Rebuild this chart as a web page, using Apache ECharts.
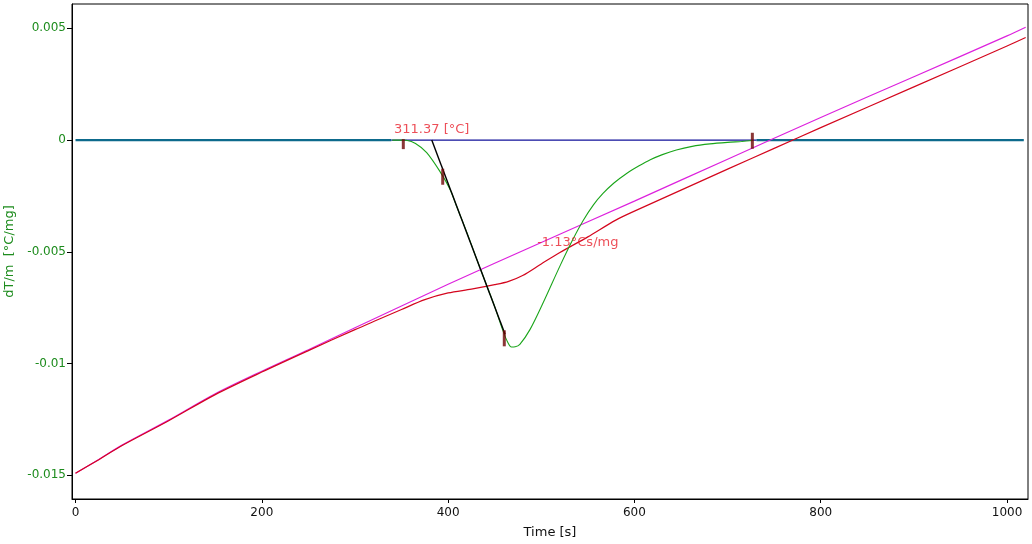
<!DOCTYPE html>
<html>
<head>
<meta charset="utf-8">
<script src="https://cdn.jsdelivr.net/npm/echarts@6/dist/echarts.min.js"></script>
<style>html,body{margin:0;padding:0;background:#fff}#c{width:1032px;height:544px}</style>
</head>
<body>
<div id="c"></div>
<script>
// ---- data (time [s], value [°C/mg]) ----
const xTicks = [0, 200, 400, 600, 800, 1000];
const yTicks = [-0.015, -0.01, -0.005, 0, 0.005];

const magentaT = [0, 25, 50, 100, 150, 200, 250, 300, 400, 500, 600, 700, 800, 900, 1000, 1020];
const magentaV = [-0.01491, -0.01429, -0.01365, -0.01253, -0.01135, -0.01034, -0.00938, -0.00840, -0.00645, -0.00458, -0.00273, -0.000855, 0.00101, 0.002837, 0.004662, 0.00505];

const redT = [0, 25, 50, 100, 150, 200, 250, 300, 325, 350, 375, 400, 425, 450, 465, 480, 500, 520, 550, 580, 600, 650, 700, 750, 800, 900, 1000, 1020];
const redV = [-0.01491, -0.01430, -0.01367, -0.01256, -0.01139, -0.01038, -0.00942, -0.00848, -0.00803, -0.00758, -0.00714, -0.00684, -0.00667, -0.00647, -0.00632, -0.00606, -0.00554, -0.00503, -0.00433, -0.00358, -0.00318, -0.00224, -0.00130, -0.00037, 0.00056, 0.00238, 0.00421, 0.00459];

const greenT = [340, 350, 355, 365, 377, 391, 402, 409, 420, 430, 440, 450, 459, 464, 468, 472, 477, 488, 502, 520, 534, 545, 556, 566, 578, 592, 605, 617, 630, 645, 662, 681, 700, 715, 727];
const greenV = [0, 0, -0.00001, -0.00015, -0.00056, -0.00139, -0.0022, -0.00295, -0.00412, -0.00525, -0.00635, -0.00745, -0.00855, -0.00905, -0.00926, -0.00925, -0.00914, -0.00847, -0.00728, -0.00564, -0.00444, -0.00360, -0.00290, -0.00240, -0.00192, -0.00148, -0.00115, -0.00088, -0.00065, -0.00044, -0.00028, -0.00017, -0.00010, -0.00006, -0.00002];

const tealLeftT = [0, 339];
const tealRightT = [731, 1018];
const baselineT = [339, 731];

const tangentT = [382.4, 461.1];
const tangentV = [0, -0.00869];

const markerT = [394.2, 460.3, 726.6];
const markerV = [-0.00164, -0.00887, -0.00003];
const onsetMarkerT = [351.9];
const onsetMarkerV = [-0.00018];

const labelTexts = ['311.37 [°C]', '-1.13°Cs/mg'];
const labelT = [382.4, 539.2];
const labelV = [0.00046, -0.00458];

const zip = (a, b) => a.map((t, i) => [t, b[i]]);
const flat = (ts) => ts.map(t => [t, 0]);

const chart = echarts.init(document.getElementById('c'), null, {renderer: 'canvas'});
const FONT = 'DejaVu Sans';
chart.setOption({
  animation: false,
  backgroundColor: '#ffffff',
  grid: {left: 72, right: 4, top: 4, bottom: 45, containLabel: false, outerBoundsMode: 'none',
    show: true, borderColor: '#000', borderWidth: 1, backgroundColor: 'transparent'},
  xAxis: {
    type: 'value', min: -3.76, max: 1022.5,
    name: 'Time [s]', nameLocation: 'middle', nameGap: 27,
    nameTextStyle: {color: '#111', fontSize: 13, fontFamily: FONT},
    axisLine: {onZero: false, lineStyle: {color: '#000', width: 1}},
    axisTick: {show: true, length: 4, lineStyle: {color: '#000'}, customValues: xTicks},
    axisLabel: {color: '#111', fontSize: 12, fontFamily: FONT, margin: 8, customValues: xTicks, formatter: v => String(v)},
    splitLine: {show: false}
  },
  yAxis: {
    type: 'value', min: -0.01606, max: 0.00609,
    name: 'dT/m  [°C/mg]', nameLocation: 'middle', nameGap: 51, nameRotate: 90,
    nameTextStyle: {color: '#1e8c1e', fontSize: 13, fontFamily: FONT},
    axisLine: {onZero: false, lineStyle: {color: '#000', width: 1}},
    axisTick: {show: true, length: 5, lineStyle: {color: '#000'}, customValues: yTicks},
    axisLabel: {color: '#1e8c1e', fontSize: 12, fontFamily: FONT, margin: 6, customValues: yTicks,
      formatter: v => { const r = Math.round(v * 1000) / 1000; return r === 0 ? '0' : String(r); }},
    splitLine: {show: false}
  },
  series: [
    {type: 'line', data: flat(tealLeftT), symbol: 'none', lineStyle: {color: '#0d6a8c', width: 2.2}, z: 2},
    {type: 'line', data: flat(tealRightT), symbol: 'none', lineStyle: {color: '#0d6a8c', width: 2.2}, z: 2},
    {type: 'line', data: flat(baselineT), symbol: 'none', lineStyle: {color: '#10109a', width: 1.2}, z: 2},
    {type: 'line', data: zip(magentaT, magentaV), symbol: 'none', smooth: 0.3, lineStyle: {color: '#dd22dd', width: 1.2}, z: 3},
    {type: 'line', data: zip(redT, redV), symbol: 'none', smooth: 0.3, lineStyle: {color: '#d4061e', width: 1.2}, z: 4},
    {type: 'line', data: zip(greenT, greenV), symbol: 'none', smooth: 0.3, lineStyle: {color: '#1aa51a', width: 1.1}, z: 5},
    {type: 'line', data: zip(tangentT, tangentV), symbol: 'none', lineStyle: {color: '#000', width: 1.4}, z: 6},
    {type: 'scatter', data: zip(markerT, markerV), symbol: 'rect', symbolSize: [3, 16], itemStyle: {color: '#6e0505'}, z: 7},
    {type: 'scatter', data: zip(onsetMarkerT, onsetMarkerV), symbol: 'rect', symbolSize: [3, 10], itemStyle: {color: '#6e0505'}, z: 7},
    {type: 'scatter', data: labelTexts.map((s, i) => ({name: s, value: [labelT[i], labelV[i]]})), symbolSize: 0,
      label: {show: true, position: 'inside', formatter: p => p.name, color: '#e8232e', fontSize: 13, fontFamily: FONT}, z: 8}
  ]
});
</script>
</body>
</html>
